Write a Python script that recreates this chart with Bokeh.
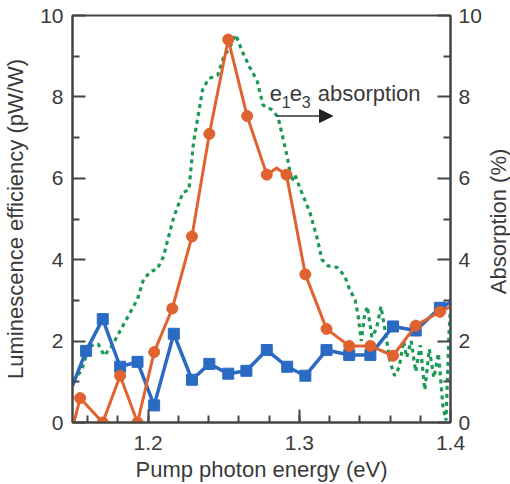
import math
from bokeh.plotting import figure
from bokeh.layouts import row
from bokeh.models import Range1d, LinearAxis, FixedTicker, Label, Arrow, NormalHead
from bokeh.embed import file_html
from bokeh.resources import INLINE

# ---- data ----
x_major_ticks = [1.2, 1.3, 1.4]
x_minor_ticks = [1.16, 1.18, 1.20, 1.22, 1.24, 1.26, 1.28, 1.30, 1.32, 1.34, 1.36, 1.38]
y_major_ticks = [0, 2, 4, 6, 8, 10]
y_minor_ticks = [1, 3, 5, 7, 9]

# luminescence efficiency, orange circles
lum_a_x = [1.155, 1.170, 1.1815, 1.193, 1.204, 1.216, 1.229, 1.2405, 1.253, 1.2655,
           1.2785, 1.2915, 1.304, 1.318, 1.333, 1.347, 1.362, 1.377, 1.393]
lum_a_y = [0.6, 0.0, 1.15, 0.0, 1.73, 2.8, 4.57, 7.09, 9.41, 7.53,
           6.09, 6.09, 3.64, 2.30, 1.88, 1.88, 1.64, 2.38, 2.72]
# line path of the orange curve (markers plus the visible ends / bump)
lum_a_line_x = [1.151] + lum_a_x[:11] + [1.285] + lum_a_x[11:] + [1.400]
lum_a_line_y = [0.0] + lum_a_y[:11] + [6.25] + lum_a_y[11:] + [2.85]

# luminescence efficiency, blue squares
lum_b_x = [1.159, 1.170, 1.1815, 1.193, 1.204, 1.217, 1.229, 1.2405, 1.253, 1.265,
           1.2785, 1.292, 1.304, 1.318, 1.333, 1.347, 1.362, 1.377, 1.393]
lum_b_y = [1.76, 2.54, 1.37, 1.49, 0.42, 2.18, 1.05, 1.44, 1.20, 1.27,
           1.78, 1.37, 1.15, 1.78, 1.66, 1.66, 2.36, 2.26, 2.82]
lum_b_line_x = [1.150] + lum_b_x + [1.400]
lum_b_line_y = [0.9] + lum_b_y + [2.95]

# e1e3 absorption (%), green dotted
abs_x = [1.150, 1.156, 1.161, 1.167, 1.171, 1.176, 1.184, 1.193, 1.197, 1.202,
         1.206, 1.210, 1.217, 1.223, 1.227, 1.230, 1.236, 1.240, 1.246, 1.250,
         1.254, 1.258, 1.262, 1.267, 1.272, 1.276, 1.282, 1.286, 1.292, 1.295,
         1.297, 1.300, 1.307, 1.312, 1.315, 1.319, 1.325, 1.330, 1.333, 1.337,
         1.339, 1.341, 1.343, 1.345, 1.348, 1.351, 1.354, 1.357, 1.360, 1.363,
         1.366, 1.369, 1.371, 1.374, 1.377, 1.380, 1.383, 1.386, 1.389, 1.392,
         1.395, 1.397, 1.399, 1.400]
abs_y = [1.03, 1.27, 1.88, 1.93, 1.64, 1.88, 2.42, 3.03, 3.52, 3.72,
         3.77, 4.06, 5.05, 5.65, 5.72, 6.87, 8.17, 8.45, 8.53, 8.98,
         9.22, 9.53, 9.14, 8.74, 8.41, 7.80, 7.68, 7.50, 6.53, 5.92,
         6.10, 5.80, 5.16, 4.50, 4.00, 3.85, 3.81, 3.60, 3.30, 3.00,
         2.60, 2.00, 2.60, 2.85, 2.10, 2.30, 2.85, 2.20, 1.50, 1.15,
         1.35, 2.00, 1.60, 2.00, 1.25, 1.90, 0.80, 1.80, 1.10, 1.70,
         0.40, 0.05, 2.20, 2.80]
abs_range = (0, 10)

# annotation
note_x, note_y = 1.2805, 8.09
arrow_x0, arrow_x1, arrow_y = 1.285, 1.322, 7.53

FONT = "Liberation Sans"
TXT = "#3a3a3a"
FRAME = "#444444"
ORANGE = "#e0622e"
BLUE = "#2a6ac3"
GREEN = "#1a9a55"

p = figure(width=484, height=484, x_range=Range1d(1.15, 1.4), y_range=Range1d(0, 10),
           output_backend="svg", toolbar_location=None,
           min_border_left=71, min_border_right=32, min_border_top=15, min_border_bottom=60)
p.extra_y_ranges = {"abs": Range1d(*abs_range)}
p.xgrid.visible = False
p.ygrid.visible = False
p.outline_line_color = FRAME
p.outline_line_width = 2
p.outline_line_alpha = 1
p.background_fill_color = "white"
p.border_fill_color = "white"

right = LinearAxis(y_range_name="abs")
p.add_layout(right, "right")

p.xaxis.ticker = FixedTicker(ticks=x_major_ticks, minor_ticks=x_minor_ticks)
p.xaxis.axis_label = "Pump photon energy (eV)"
p.yaxis[0].axis_label = "Luminescence efficiency (pW/W)"
for ax in p.yaxis:
    ax.ticker = FixedTicker(ticks=y_major_ticks, minor_ticks=y_minor_ticks)

for ax in list(p.xaxis) + list(p.yaxis):
    ax.axis_line_color = FRAME
    ax.axis_line_width = 2
    ax.major_tick_line_color = FRAME
    ax.major_tick_line_width = 2
    ax.minor_tick_line_color = FRAME
    ax.minor_tick_line_width = 2
    ax.major_tick_in = 13
    ax.major_tick_out = 0
    ax.minor_tick_in = 7
    ax.minor_tick_out = 0
    ax.major_label_text_font = FONT
    ax.major_label_text_font_size = "21px"
    ax.major_label_text_color = TXT
    ax.axis_label_text_font = FONT
    ax.axis_label_text_font_size = "22px"
    ax.axis_label_text_font_style = "normal"
    ax.axis_label_text_color = TXT

p.xaxis.major_label_standoff = 13
p.xaxis.axis_label_standoff = 4
p.yaxis[0].major_label_standoff = 9
p.yaxis[0].axis_label_standoff = 9
right.major_label_standoff = 8

# green dotted absorption
p.line(abs_x, abs_y, y_range_name="abs", line_color=GREEN, line_width=3.2,
       line_dash="4 4", line_cap="butt")
# blue squares
p.line(lum_b_line_x, lum_b_line_y, line_color=BLUE, line_width=3.5, line_join="round")
p.scatter(lum_b_x, lum_b_y, marker="square", size=11, fill_color=BLUE, line_color=BLUE)
# orange circles
p.line(lum_a_line_x, lum_a_line_y, line_color=ORANGE, line_width=3, line_join="round")
p.scatter(lum_a_x, lum_a_y, marker="circle", size=11, fill_color=ORANGE, line_color=ORANGE)

# annotation "e1e3 absorption" with arrow
def lab(txt, dx, dy, size):
    p.add_layout(Label(x=note_x, y=note_y, x_offset=dx, y_offset=dy, text=txt,
                       text_font=FONT, text_font_size=size, text_color=TXT,
                       text_baseline="alphabetic", text_align="left"))

lab("e", 0, 0, "22px")
lab("1", 12, -9, "16px")
lab("e", 20, 0, "22px")
lab("3", 32, -9, "16px")
lab("absorption", 48, 0, "22px")

p.add_layout(Arrow(x_start=arrow_x0, y_start=arrow_y, x_end=arrow_x1, y_end=arrow_y,
                   line_color="#333333", line_width=1.5,
                   end=NormalHead(size=13, fill_color="#222222", line_color="#222222")))

# narrow strip to the right carrying the right-hand axis title (reads bottom to top)
side = figure(width=26, height=484, x_range=Range1d(0, 1), y_range=Range1d(*abs_range),
              output_backend="svg", toolbar_location=None, x_axis_type=None, y_axis_type=None,
              min_border_left=0, min_border_right=0, min_border_top=15, min_border_bottom=60)
side.outline_line_color = None
side.background_fill_color = "white"
side.border_fill_color = "white"
side.add_layout(Label(x=14, x_units="screen", y=(abs_range[0] + abs_range[1]) / 2 - 0.06,
                      angle=math.pi / 2, text="Absorption (%)", text_font=FONT,
                      text_font_size="22px", text_color=TXT,
                      text_align="center", text_baseline="middle"))

page = row(p, side, spacing=0)
open("out.html", "w").write(file_html(page, INLINE))
